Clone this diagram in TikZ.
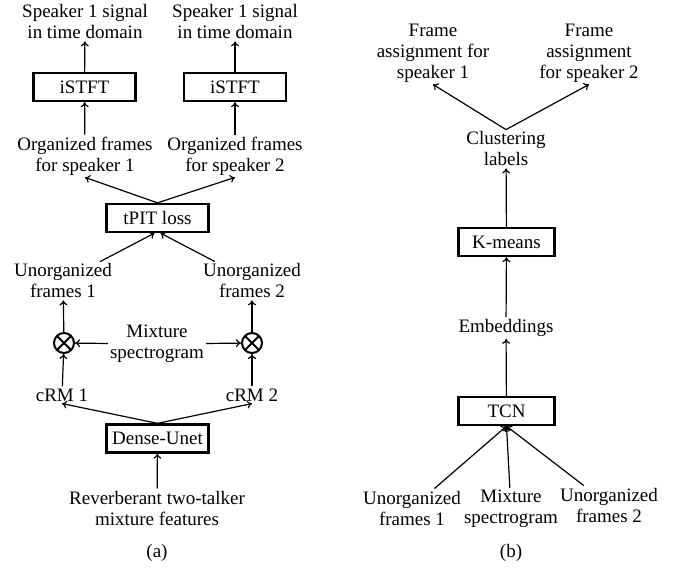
\documentclass[tikz,border=0pt]{standalone}
\usepackage{fontspec}
\setmainfont{Liberation Serif}
\usetikzlibrary{arrows.meta}

\begin{document}
\begin{tikzpicture}[x=1pt,y=-1pt,
        every node/.style={font=\fontsize{19}{21}\selectfont, align=center, inner sep=2pt},
        blk/.style={draw, line width=2.3pt, minimum width=102pt,
                        minimum height=28pt, inner sep=0pt},
        ar/.style={-{To[length=5pt,width=8pt]}, line width=1.2pt},
        mult/.style={circle, draw, line width=2pt, minimum size=20pt, inner sep=0pt,
                        path picture={\draw[line width=2pt]
                            (path picture bounding box.north west) -- (path picture bounding box.south east)
                            (path picture bounding box.north east) -- (path picture bounding box.south west);}}]
            \useasboundingbox (0,0) rectangle (677,569);

            \node (sig1) at (85,22) {Speaker 1 signal\\in time domain};
            \node (sig2) at (235,22) {Speaker 1 signal\\in time domain};
            \node[blk] (istft1) at (84.5,87) {iSTFT};
            \node[blk] (istft2) at (235,87) {iSTFT};
            \node (org1) at (85,156) {Organized frames\\for speaker 1};
            \node (org2) at (235,156) {Organized frames\\for speaker 2};
            \node[blk] (tpit) at (157.5,218) {tPIT loss};
            \node (unorg1) at (63,281) {Unorganized\\frames 1};
            \node (unorg2) at (252,281) {Unorganized\\frames 2};
            \node[mult] (m1) at (64,343) {};
            \node[mult] (m2) at (252,343) {};
            \node (mix) at (157,344) {Mixture\\spectrogram};
            \node (crm1) at (62,395) {cRM 1};
            \node (crm2) at (252,395) {cRM 2};
            \node[blk] (unet) at (157.5,438.5) {Dense-Unet};
            \node (feat) at (157,508) {Reverberant two-talker\\mixture features};
            \node (capa) at (157,553) {(a)};

            \draw[ar] (istft1) -- (sig1);
            \draw[ar] (istft2) -- (sig2);
            \draw[ar] (org1) -- (istft1);
            \draw[ar] (org2) -- (istft2);
            \draw[ar] (tpit.north) -- (org1.south);
            \draw[ar] (tpit.north) -- (org2.south);
            \draw[ar] (unorg1) -- ([xshift=-3pt]tpit.south);
            \draw[ar] (unorg2) -- ([xshift=3pt]tpit.south);
            \draw[ar] (m1) -- (unorg1);
            \draw[ar] (m2) -- (unorg2);
            \draw[ar] (mix) -- (m1);
            \draw[ar] (mix) -- (m2);
            \draw[ar] (crm1) -- (m1);
            \draw[ar] (crm2) -- (m2);
            \draw[ar] (unet.north) -- (crm1.south);
            \draw[ar] (unet.north) -- (crm2.south);
            \draw[ar] (feat) -- (unet);

            \node (fa1) at (433,53) {Frame\\assignment for\\speaker 1};
            \node (fa2) at (589,53) {Frame\\assignment\\for speaker 2};
            \node (clu) at (506,149) {Clustering\\labels};
            \node[blk, minimum width=96pt] (km) at (506.5,242) {K-means};
            \node (emb) at (506,328) {Embeddings};
            \node[blk, minimum width=96pt] (tcn) at (506.5,411) {TCN};
            \node (in1) at (412,508) {Unorganized\\frames 1};
            \node (in2) at (511,509) {Mixture\\spectrogram};
            \node (in3) at (609,505) {Unorganized\\frames 2};
            \node (capb) at (511,553) {(b)};

            \draw[ar] (clu.north) -- (fa1.south);
            \draw[ar] (clu.north) -- (fa2.south);
            \draw[ar] (km) -- (clu);
            \draw[ar] (emb) -- (km);
            \draw[ar] (tcn) -- (emb);
            \draw[ar] (in1) -- (tcn.south);
            \draw[ar] (in2) -- (tcn.south);
            \draw[ar] (in3) -- (tcn.south);
        \end{tikzpicture}
\end{document}
